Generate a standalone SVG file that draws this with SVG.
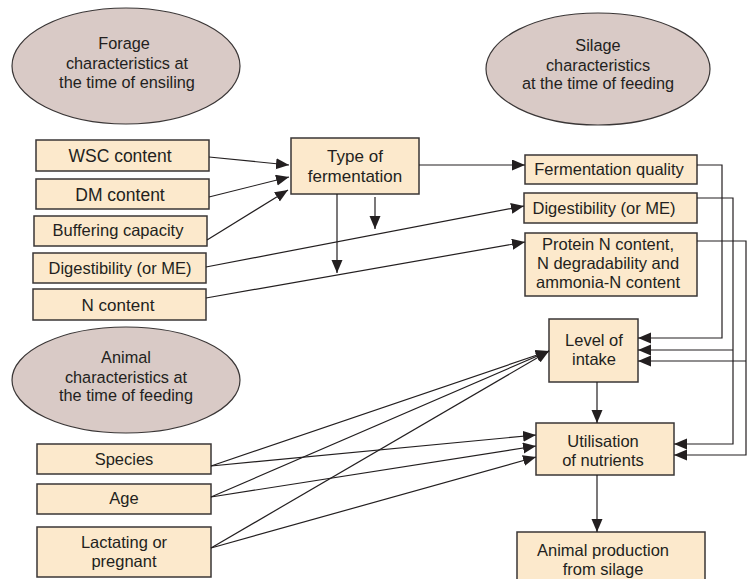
<svg xmlns="http://www.w3.org/2000/svg" width="749" height="579" viewBox="0 0 749 579">
<defs>
<style>
.box{fill:#fce9cc;stroke:#3a3636;stroke-width:1.5}
.ell{fill:#d9cac6;stroke:#3a3636;stroke-width:1.2}
text{font-family:"Liberation Sans",Arial,sans-serif;font-size:16.5px;fill:#231f20;text-anchor:middle}
.et{font-size:16.3px}
.c{fill:none;stroke:#231f20;stroke-width:1.2}
.a{marker-end:url(#ah)}
</style>
<marker id="ah" markerUnits="userSpaceOnUse" markerWidth="14" markerHeight="12" refX="13" refY="5.5" orient="auto">
<path d="M0,0 L13,5.5 L0,11 z" fill="#231f20"/>
</marker>
</defs>
<rect width="749" height="579" fill="#ffffff"/>

<g id="forage-characteristics">
<ellipse class="ell" cx="126" cy="66" rx="114" ry="58"/>
<text class="et" x="124" y="49">Forage</text>
<text class="et" x="127" y="69">characteristics at</text>
<text class="et" x="127" y="88">the time of ensiling</text>
</g>
<g id="silage-characteristics">
<ellipse class="ell" cx="598" cy="69" rx="112" ry="56"/>
<text class="et" x="598" y="51">Silage</text>
<text class="et" x="598" y="71">characteristics</text>
<text class="et" x="598" y="89">at the time of feeding</text>
</g>
<g id="animal-characteristics">
<ellipse class="ell" cx="126" cy="380" rx="114" ry="53"/>
<text class="et" x="126" y="363">Animal</text>
<text class="et" x="126" y="383">characteristics at</text>
<text class="et" x="126" y="401">the time of feeding</text>
</g>

<g id="wsc-content">
<rect class="box" x="36" y="140" width="173" height="31"/>
<text x="120" y="162" style="font-size:17.5px">WSC content</text>
</g>
<g id="dm-content">
<rect class="box" x="36" y="179" width="173" height="30"/>
<text x="120" y="201" style="font-size:17.5px">DM content</text>
</g>
<g id="buffering-capacity">
<rect class="box" x="34" y="216" width="173" height="30"/>
<text x="118" y="236">Buffering capacity</text>
</g>
<g id="digestibility-forage">
<rect class="box" x="33" y="253" width="173" height="30"/>
<text x="120" y="274">Digestibility (or ME)</text>
</g>
<g id="n-content">
<rect class="box" x="33" y="289" width="173" height="31"/>
<text x="118" y="311" style="font-size:17px">N content</text>
</g>

<g id="type-of-fermentation">
<rect class="box" x="291" y="138" width="128" height="56"/>
<text x="355" y="162" style="font-size:17px">Type of</text>
<text x="355" y="182" style="font-size:17px">fermentation</text>
</g>

<g id="fermentation-quality">
<rect class="box" x="525" y="155" width="172" height="29"/>
<text x="609" y="175">Fermentation quality</text>
</g>
<g id="digestibility-silage">
<rect class="box" x="524" y="193" width="173" height="30"/>
<text x="604" y="214">Digestibility (or ME)</text>
</g>
<g id="protein-n">
<rect class="box" x="525" y="233" width="172" height="63"/>
<text x="608" y="250">Protein N content,</text>
<text x="608" y="269">N degradability and</text>
<text x="608" y="288">ammonia-N content</text>
</g>

<g id="level-of-intake">
<rect class="box" x="549" y="319" width="89" height="63"/>
<text x="594" y="346">Level of</text>
<text x="594" y="365">intake</text>
</g>
<g id="utilisation-of-nutrients">
<rect class="box" x="536" y="423" width="138" height="52"/>
<text x="603" y="447">Utilisation</text>
<text x="603" y="466">of nutrients</text>
</g>
<g id="animal-production">
<rect class="box" x="517" y="532" width="188" height="50"/>
<text x="603" y="556">Animal production</text>
<text x="603" y="575">from silage</text>
</g>

<g id="species">
<rect class="box" x="37" y="444" width="174" height="30"/>
<text x="124" y="465">Species</text>
</g>
<g id="age">
<rect class="box" x="37" y="484" width="174" height="30"/>
<text x="124" y="504">Age</text>
</g>
<g id="lactating-pregnant">
<rect class="box" x="37" y="527" width="174" height="50"/>
<text x="124" y="548">Lactating or</text>
<text x="124" y="567">pregnant</text>
</g>

<g id="connectors">
<line class="c a" x1="209" y1="157" x2="289" y2="165"/>
<line class="c a" x1="209" y1="197" x2="289" y2="177"/>
<line class="c a" x1="207" y1="240" x2="288" y2="190"/>
<line class="c a" x1="337" y1="194" x2="337" y2="273"/>
<line class="c a" x1="375" y1="197" x2="375" y2="229"/>
<line class="c a" x1="419" y1="165" x2="525" y2="165"/>
<line class="c a" x1="206" y1="267" x2="524" y2="206"/>
<line class="c a" x1="206" y1="298" x2="525" y2="242"/>
<path class="c a" d="M697,165 H722 V338 H638"/>
<path class="c a" d="M697,198 H733 V444 H674"/>
<path class="c a" d="M733,350 H638"/>
<path class="c a" d="M697,241 H746 V455 H674"/>
<path class="c a" d="M746,361 H638"/>
<line class="c a" x1="597" y1="382" x2="597" y2="423"/>
<line class="c a" x1="597" y1="475" x2="597" y2="532"/>
<line class="c a" x1="211" y1="466" x2="549" y2="351"/>
<line class="c a" x1="211" y1="497" x2="549" y2="351"/>
<line class="c a" x1="211" y1="548" x2="549" y2="351"/>
<line class="c a" x1="211" y1="466" x2="536" y2="435"/>
<line class="c a" x1="211" y1="497" x2="536" y2="446"/>
<line class="c a" x1="211" y1="548" x2="536" y2="457"/>
</g>
</svg>
